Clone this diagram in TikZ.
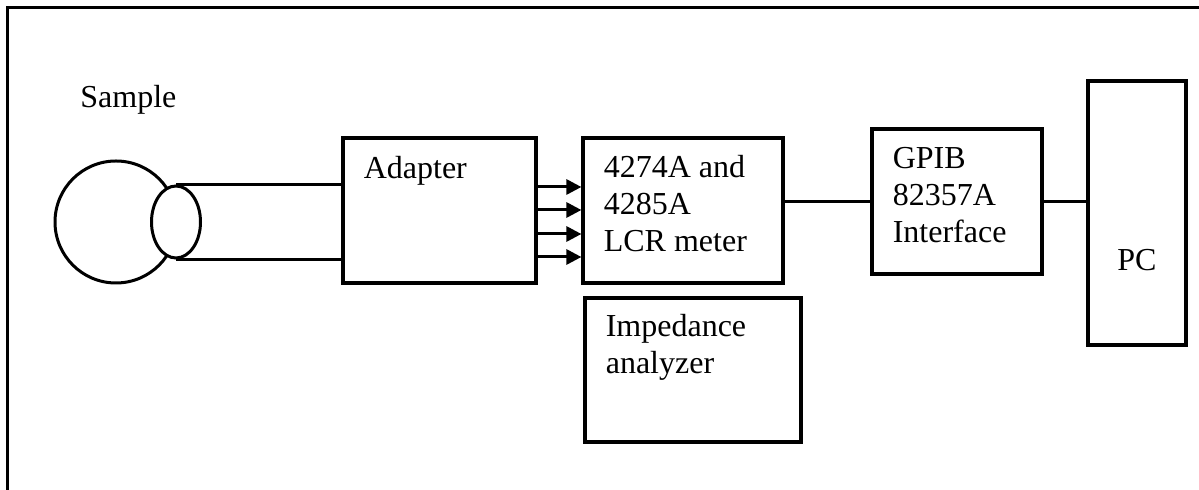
\documentclass[tikz,border=0pt]{standalone}
\usepackage{fontspec}
\setmainfont{Liberation Serif}
\usetikzlibrary{arrows.meta, shapes.geometric}

\begin{document}
\begin{tikzpicture}[x=0.5pt, y=-0.5pt,
	unit/.style={draw, rectangle, line width=1.6pt, inner sep=0pt},
	lbl/.style={inner sep=0pt, anchor=base west, align=left, font=\fontsize{16}{18.5}\selectfont},
	wire/.style={line width=1.5pt},
	sig/.style={line width=1.5pt, -{Triangle[length=7.5pt, width=7.5pt]}}]
		\useasboundingbox (0,0) rectangle (1199,490);
		% frame
		\draw[line width=1.5pt] (7,500) -- (7,8) -- (1210,8);
		% sample
		\node[lbl] (smptxt) at (80,108) {Sample};
		\node[circle, draw, line width=1.5pt, minimum size=61pt, inner sep=0pt] (ball) at (116,222) {};
		\node[ellipse, draw, fill=white, line width=1.5pt, minimum width=24.5pt, minimum height=36pt, inner sep=0pt] (plug) at (176,222) {};
		% instruments
		\node[unit, minimum width=96.5pt, minimum height=72.5pt] (adp) at (439.5,210.5) {};
		\node[unit, minimum width=100pt, minimum height=72.5pt] (lcr) at (683,210.5) {};
		\node[unit, minimum width=108pt, minimum height=72pt] (imp) at (693,370) {};
		\node[unit, minimum width=85pt, minimum height=72.5pt] (gpib) at (957,201.5) {};
		\node[unit, minimum width=49pt, minimum height=132pt] (pc) at (1137,213) {};
		% base of a label is its last line
		\node[lbl] (adptxt) at ([shift={(22,42)}]adp.north west) {Adapter};
		\node[lbl] (lcrtxt) at ([shift={(22,115)}]lcr.north west) {4274A and\\4285A\\LCR meter};
		\node[lbl] (imptxt) at ([shift={(22,77)}]imp.north west) {Impedance\\analyzer};
		\node[lbl] (gpibtxt) at ([shift={(22,115)}]gpib.north west) {GPIB\\82357A\\Interface};
		\node[lbl, anchor=base] (pctxt) at ([shift={(0,58)}]pc.center) {PC};
		% cables
		\draw[wire] (plug.north) -- (plug.north -| adp.west);
		\draw[wire] (plug.south) -- (plug.south -| adp.west);
		\foreach \y in {187,210,234,257}
		\draw[sig] (adp.east |- 0,\y) -- (lcr.west |- 0,\y);
		\draw[wire] (lcr.east |- gpib.west) -- (gpib.west);
		\draw[wire] (gpib.east) -- (gpib.east -| pc.west);
\end{tikzpicture}
\end{document}
